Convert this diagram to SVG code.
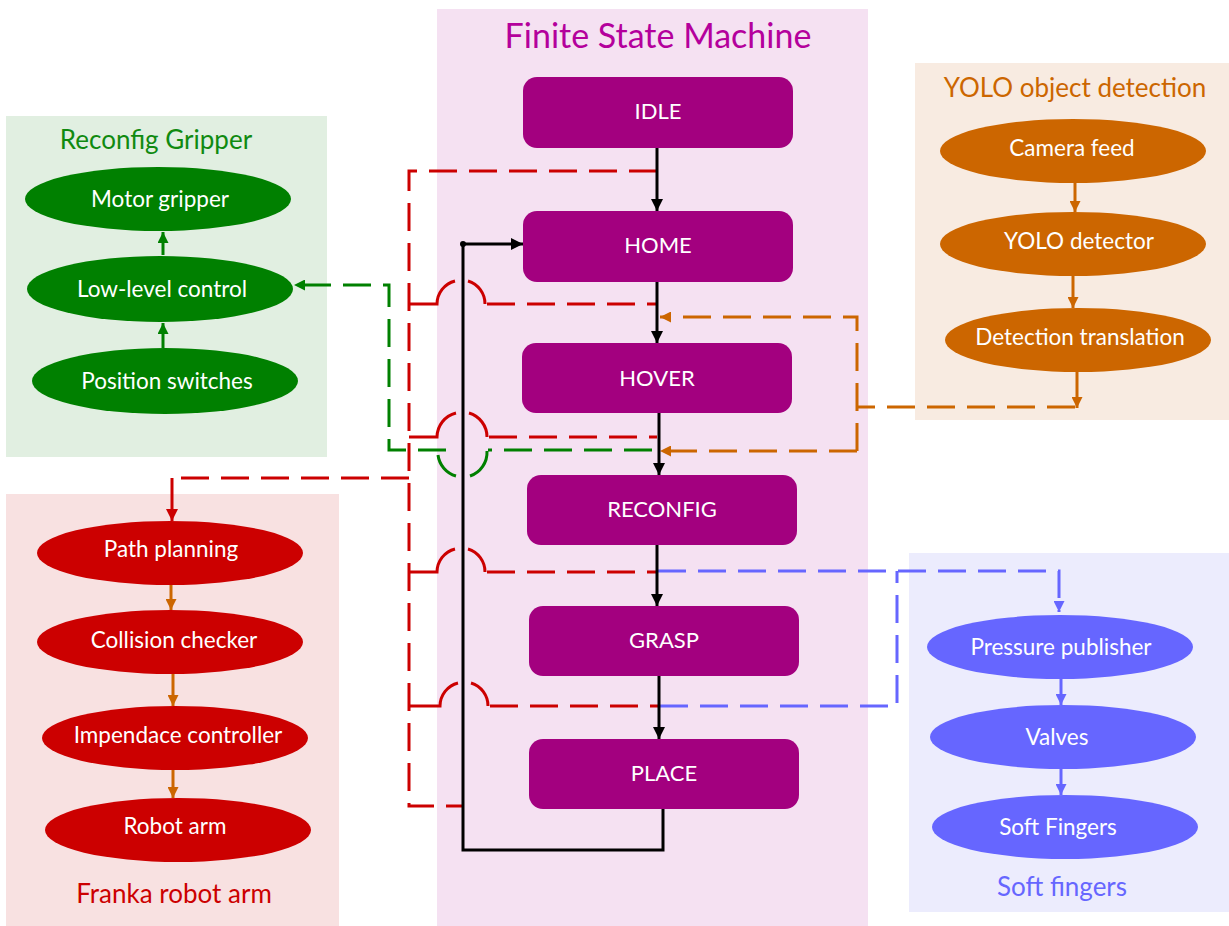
<svg xmlns="http://www.w3.org/2000/svg" width="1229" height="926" viewBox="0 0 1229 926">
<style>
text{font-family:Lato,"Open Sans","Liberation Sans",sans-serif;text-anchor:middle}
.st{fill:#a3007f}
.st-t{fill:#ffffff;font-size:22px}
.el-t{fill:#ffffff;font-size:22.5px}
.ptitle{font-size:26px}
.c{fill:none;stroke-width:3}
.dash{stroke-dasharray:28 12}
.blk{stroke:#000}
.red{stroke:#cc0000}
.grn{stroke:#008000}
.org{stroke:#cc6600}
.blu{stroke:#6666ff}
</style>
<defs>
<marker id="aBlk" viewBox="0 0 12 12" refX="12" refY="6" markerWidth="12" markerHeight="12" markerUnits="userSpaceOnUse" orient="auto"><path d="M0,0 L12,6 L0,12 z" fill="#000"/></marker>
<marker id="aRed" viewBox="0 0 12 12" refX="12" refY="6" markerWidth="12" markerHeight="12" markerUnits="userSpaceOnUse" orient="auto"><path d="M0,0 L12,6 L0,12 z" fill="#cc0000"/></marker>
<marker id="aGrn" viewBox="0 0 12 12" refX="12" refY="6" markerWidth="11" markerHeight="11" markerUnits="userSpaceOnUse" orient="auto"><path d="M0,0 L12,6 L0,12 z" fill="#008000"/></marker>
<marker id="aOrg" viewBox="0 0 12 12" refX="12" refY="6" markerWidth="11" markerHeight="11" markerUnits="userSpaceOnUse" orient="auto"><path d="M0,0 L12,6 L0,12 z" fill="#cc6600"/></marker>
<marker id="aBlu" viewBox="0 0 12 12" refX="12" refY="6" markerWidth="11" markerHeight="11" markerUnits="userSpaceOnUse" orient="auto"><path d="M0,0 L12,6 L0,12 z" fill="#6666ff"/></marker>
</defs>

<!-- panels -->
<g id="panel-fsm"><rect x="437" y="9" width="431" height="917" fill="#f5e1f2"/><text x="658" y="48" style="font-size:34px;fill:#b4009c">Finite State Machine</text></g>
<g id="panel-gripper"><rect x="6" y="116" width="321" height="341" fill="#e1efe1"/><text class="ptitle" x="156" y="149" fill="#108a10">Reconfig Gripper</text></g>
<g id="panel-franka"><rect x="6" y="494" width="333" height="432" fill="#f8e1e1"/><text class="ptitle" x="174" y="903" fill="#cc0000">Franka robot arm</text></g>
<g id="panel-yolo"><rect x="915" y="63" width="314" height="357" fill="#f8ebe1"/><text class="ptitle" x="1075" y="97" fill="#cc6600">YOLO object detection</text></g>
<g id="panel-soft"><rect x="909" y="553" width="320" height="359" fill="#ececfd"/><text class="ptitle" x="1062" y="896" fill="#6666ff">Soft fingers</text></g>

<!-- FSM states -->
<g id="idle"><rect class="st" x="523" y="77" width="270" height="71" rx="14"/><text class="st-t" x="658" y="119">IDLE</text></g>
<g id="home"><rect class="st" x="523" y="211" width="270" height="71" rx="14"/><text class="st-t" x="658" y="253">HOME</text></g>
<g id="hover"><rect class="st" x="522" y="343" width="270" height="70" rx="14"/><text class="st-t" x="657" y="386">HOVER</text></g>
<g id="reconfig"><rect class="st" x="527" y="475" width="270" height="70" rx="14"/><text class="st-t" x="662" y="517">RECONFIG</text></g>
<g id="grasp"><rect class="st" x="529" y="606" width="270" height="70" rx="14"/><text class="st-t" x="664" y="648">GRASP</text></g>
<g id="place"><rect class="st" x="529" y="739" width="270" height="70" rx="14"/><text class="st-t" x="664" y="781">PLACE</text></g>

<!-- gripper nodes -->
<g id="motor-gripper"><ellipse cx="158" cy="199" rx="133" ry="32" fill="#008000"/><text class="el-t" x="160" y="207">Motor gripper</text></g>
<g id="low-level"><ellipse cx="160" cy="289" rx="133" ry="33" fill="#008000"/><text class="el-t" x="162" y="297">Low-level control</text></g>
<g id="position-switches"><ellipse cx="165" cy="381" rx="133" ry="33" fill="#008000"/><text class="el-t" x="167" y="389">Position switches</text></g>

<!-- franka nodes -->
<g id="path-planning"><ellipse cx="170" cy="553" rx="133" ry="32" fill="#cc0000"/><text class="el-t" x="171" y="557">Path planning</text></g>
<g id="collision-checker"><ellipse cx="170" cy="642" rx="133" ry="32" fill="#cc0000"/><text class="el-t" x="174" y="648">Collision checker</text></g>
<g id="impedance"><ellipse cx="175" cy="738" rx="133" ry="32" fill="#cc0000"/><text class="el-t" x="178" y="743">Impendace controller</text></g>
<g id="robot-arm"><ellipse cx="178" cy="830" rx="133" ry="32" fill="#cc0000"/><text class="el-t" x="175" y="834">Robot arm</text></g>

<!-- yolo nodes -->
<g id="camera-feed"><ellipse cx="1073" cy="151" rx="133" ry="32" fill="#cc6600"/><text class="el-t" x="1072" y="156">Camera feed</text></g>
<g id="yolo-detector"><ellipse cx="1073" cy="244" rx="133" ry="32" fill="#cc6600"/><text class="el-t" x="1079" y="249">YOLO detector</text></g>
<g id="detection-translation"><ellipse cx="1078" cy="340" rx="133" ry="32" fill="#cc6600"/><text class="el-t" x="1080" y="345">Detection translation</text></g>

<!-- soft nodes -->
<g id="pressure-publisher"><ellipse cx="1060" cy="647" rx="133" ry="32" fill="#6666ff"/><text class="el-t" x="1061" y="655">Pressure publisher</text></g>
<g id="valves"><ellipse cx="1063" cy="737" rx="133" ry="32" fill="#6666ff"/><text class="el-t" x="1057" y="745">Valves</text></g>
<g id="soft-fingers"><ellipse cx="1065" cy="827" rx="133" ry="32" fill="#6666ff"/><text class="el-t" x="1058" y="835">Soft Fingers</text></g>

<!-- connectors -->
<g id="connectors">
  <path class="c grn" d="M163,255 V232" marker-end="url(#aGrn)"/>
  <path class="c grn" d="M163,348 V323" marker-end="url(#aGrn)"/>
  <path class="c org" d="M171,585 V610" marker-end="url(#aOrg)"/>
  <path class="c org" d="M173,674 V706" marker-end="url(#aOrg)"/>
  <path class="c org" d="M173,770 V798" marker-end="url(#aOrg)"/>
  <path class="c org" d="M1075,183 V212" marker-end="url(#aOrg)"/>
  <path class="c org" d="M1073,276 V308" marker-end="url(#aOrg)"/>
  <path class="c org" d="M1077,372 V408" marker-end="url(#aOrg)"/>
  <path class="c blu" d="M1061,679 V705" marker-end="url(#aBlu)"/>
  <path class="c blu" d="M1061,769 V795" marker-end="url(#aBlu)"/>

  <path class="c red dash" d="M657,171 H409 V806 H463"/>
  <path class="c red dash" d="M409,478 H172"/>
  <path class="c red" d="M172,478 V521" marker-end="url(#aRed)"/>
  <path class="c red" d="M409,304 H437 A24,24 0 0 1 455,281"/>
  <path class="c red" d="M468,281 A24,24 0 0 1 485,304"/>
  <path class="c red dash" d="M487,304 H657"/>
  <path class="c red" d="M409,437 H437 A25,25 0 0 1 456,413"/>
  <path class="c red" d="M469,413 A25,25 0 0 1 487,437"/>
  <path class="c red dash" d="M489,437 H657"/>
  <path class="c red" d="M409,572 H437 A24,24 0 0 1 455,549"/>
  <path class="c red" d="M468,549 A24,24 0 0 1 485,572"/>
  <path class="c red dash" d="M487,572 H657"/>
  <path class="c red" d="M409,706 H440 A24,24 0 0 1 458,683"/>
  <path class="c red" d="M471,683 A24,24 0 0 1 488,706"/>
  <path class="c red dash" d="M490,706 H659"/>

  <path class="c grn dash" d="M652,450 H488"/>
  <path class="c grn" d="M487,451 A25,25 0 0 1 470,476"/>
  <path class="c grn" d="M456,476 A25,25 0 0 1 438,455"/>
  <path class="c grn dash" d="M446,450 H389 V285 H294" marker-end="url(#aGrn)"/>

  <path class="c org dash" d="M1075,407 H857"/>
  <path class="c org dash" d="M857,451 V317 H660" marker-end="url(#aOrg)"/>
  <path class="c org dash" d="M857,451 H660" marker-end="url(#aOrg)"/>

  <path class="c blu dash" d="M658,571 H1059 V612" marker-end="url(#aBlu)"/>
  <path class="c blu dash" d="M660,706 H897 V571"/>

  <path class="c blk" d="M657,148 V211" marker-end="url(#aBlk)"/>
  <path class="c blk" d="M657,282 V343" marker-end="url(#aBlk)"/>
  <path class="c blk" d="M659,413 V475" marker-end="url(#aBlk)"/>
  <path class="c blk" d="M657,545 V606" marker-end="url(#aBlk)"/>
  <path class="c blk" d="M659,676 V739" marker-end="url(#aBlk)"/>
  <path class="c blk" d="M663,809 V850 H463 V244 H523" marker-end="url(#aBlk)"/>
  <circle cx="463" cy="244" r="3" fill="#000"/>
</g>
</svg>
